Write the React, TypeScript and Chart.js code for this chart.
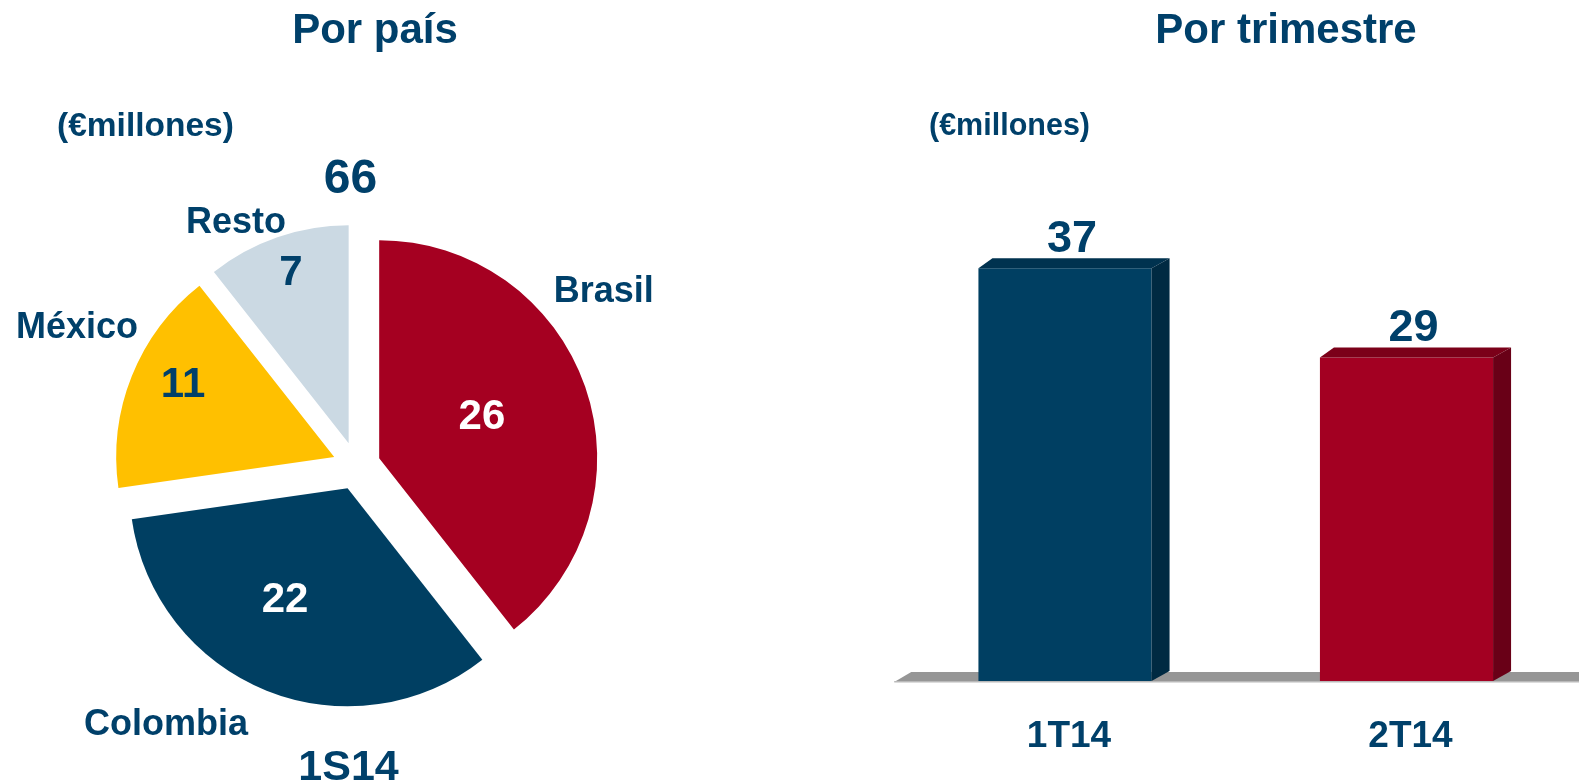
import React, { useEffect, useRef } from "react";
import { Chart, registerables } from "chart.js";

Chart.register(...registerables);

// ---------- data ----------
const countries = ["Brasil", "Colombia", "México", "Resto"];
const countryValues = [26, 22, 11, 7];
const periodLabel = "1S14";
const quarters = ["1T14", "2T14"];
const quarterValues = [37, 29];
const unitLabel = "(€millones)";
const leftTitle = "Por país";
const rightTitle = "Por trimestre";

// ---------- styles ----------
const FONT = '"Liberation Sans", Arial, Helvetica, sans-serif';
const TEXT = "#00406A";
const NAVY = "#003F62";
const RED = "#A50021";
const pieColors = [RED, NAVY, "#FFC000", "#CBD9E3"];
const valueLabelColors = ["#FFFFFF", "#FFFFFF", TEXT, TEXT];
// label placement: fraction along the slice's angle, distance as multiple of the radius
const valueLabelAngleFrac = [0.476, 0.557, 0.567, 0.516];
const valueLabelRadiusFrac = [0.623, 0.684, 0.884, 0.948];
const nameLabelAngleFrac = [0.384, 0.624, 0.583, 0.317];
const nameLabelRadiusFrac = [1.394, 1.463, 1.436, 1.257];
const EXPLODE = 24;
const PIE_RADIUS = 218;

const barFront = [NAVY, "#A30022"];
const barTop = ["#00324F", "#7B0019"];
const barSide = ["#002A42", "#690017"];
const DX = 18;
const DY = -10;

function drawText(ctx: CanvasRenderingContext2D, text: string, x: number, capCenterY: number, size: number, color: string) {
  ctx.font = `bold ${size}px ${FONT}`;
  ctx.fillStyle = color;
  ctx.textAlign = "center";
  ctx.textBaseline = "alphabetic";
  ctx.fillText(text, x, capCenterY + 0.358 * size);
}

const piePlugin = {
  id: "pieExtras",
  beforeDatasetDraw(chart: any, args: any) {
    const meta = chart.getDatasetMeta(args.index);
    const ctx = chart.ctx;
    meta.data.forEach((arc: any) => {
      const mid = (arc.startAngle + arc.endAngle) / 2;
      ctx.save();
      ctx.translate(Math.cos(mid) * EXPLODE, Math.sin(mid) * EXPLODE);
      arc.draw(ctx, chart.chartArea);
      ctx.restore();
    });
    return false;
  },
  afterDatasetsDraw(chart: any) {
    const meta = chart.getDatasetMeta(0);
    const ctx = chart.ctx;
    const values = chart.data.datasets[0].data as number[];
    let cx = 0;
    let cy = 0;
    let R = 0;
    meta.data.forEach((arc: any, i: number) => {
      cx = arc.x;
      cy = arc.y;
      R = arc.outerRadius;
      const span = arc.endAngle - arc.startAngle;
      const a1 = arc.startAngle + span * valueLabelAngleFrac[i];
      const r1 = R * valueLabelRadiusFrac[i];
      drawText(ctx, String(values[i]), arc.x + Math.cos(a1) * r1, arc.y + Math.sin(a1) * r1, 42, valueLabelColors[i]);
      const a2 = arc.startAngle + span * nameLabelAngleFrac[i];
      const r2 = R * nameLabelRadiusFrac[i];
      drawText(ctx, chart.data.labels[i], arc.x + Math.cos(a2) * r2, arc.y + Math.sin(a2) * r2, 36, TEXT);
    });
    const total = values.reduce((s, v) => s + v, 0);
    drawText(ctx, String(total), cx - 6, cy - R * 1.33, 48, TEXT);
    drawText(ctx, periodLabel, cx - 8, cy + R * 1.372, 43, TEXT);
  },
};

const barPlugin = {
  id: "bar3d",
  beforeDatasetsDraw(chart: any) {
    const { ctx, chartArea } = chart;
    const base = chart.scales.y.getPixelForValue(0);
    ctx.save();
    ctx.fillStyle = "#969696";
    ctx.beginPath();
    ctx.moveTo(chartArea.left, base + 1);
    ctx.lineTo(chartArea.left + DX - 1, base + 1 + DY);
    ctx.lineTo(chart.width, base + 1 + DY);
    ctx.lineTo(chart.width, base + 1);
    ctx.closePath();
    ctx.fill();
    ctx.fillStyle = "#B9B9B9";
    ctx.fillRect(chartArea.left, base, chart.width - chartArea.left, 1.5);
    ctx.restore();
  },
  afterDatasetsDraw(chart: any) {
    const { ctx } = chart;
    const meta = chart.getDatasetMeta(0);
    const values = chart.data.datasets[0].data as number[];
    meta.data.forEach((bar: any, i: number) => {
      const left = bar.x - bar.width / 2;
      const right = bar.x + bar.width / 2;
      const top = bar.y;
      const base = bar.base;
      ctx.save();
      // top face
      ctx.fillStyle = barTop[i];
      ctx.beginPath();
      ctx.moveTo(left, top);
      ctx.lineTo(left + DX - 4, top + DY);
      ctx.lineTo(right + DX, top + DY);
      ctx.lineTo(right, top);
      ctx.closePath();
      ctx.fill();
      // side face
      ctx.fillStyle = barSide[i];
      ctx.beginPath();
      ctx.moveTo(right, top);
      ctx.lineTo(right + DX, top + DY);
      ctx.lineTo(right + DX, base + DY);
      ctx.lineTo(right, base);
      ctx.closePath();
      ctx.fill();
      ctx.restore();
      // value label
      ctx.font = `bold 45px ${FONT}`;
      ctx.fillStyle = TEXT;
      ctx.textAlign = "center";
      ctx.textBaseline = "alphabetic";
      ctx.fillText(String(values[i]), bar.x + 7, top + DY - 6);
      // category label
      ctx.font = `bold 37px ${FONT}`;
      ctx.fillText(chart.data.labels[i], bar.x + 4, base + 66);
    });
  },
};

export default function App() {
  const pieRef = useRef<HTMLCanvasElement>(null);
  const barRef = useRef<HTMLCanvasElement>(null);

  useEffect(() => {
    document.body.style.margin = "0";
    const pie = new Chart(pieRef.current!, {
      type: "pie",
      data: {
        labels: countries,
        datasets: [
          {
            data: countryValues,
            backgroundColor: pieColors,
            borderWidth: 0,
            radius: PIE_RADIUS,
          } as any,
        ],
      },
      options: {
        animation: false,
        responsive: false,
        maintainAspectRatio: false,
        layout: { padding: { top: 149, bottom: 0, left: 0, right: 0 } },
        plugins: { legend: { display: false }, tooltip: { enabled: false } },
        events: [],
      } as any,
      plugins: [piePlugin],
    });
    const bar = new Chart(barRef.current!, {
      type: "bar",
      data: {
        labels: quarters,
        datasets: [
          {
            data: quarterValues,
            backgroundColor: barFront,
            borderWidth: 0,
            barPercentage: 0.507,
            categoryPercentage: 1,
          },
        ],
      },
      options: {
        animation: false,
        responsive: false,
        maintainAspectRatio: false,
        layout: { padding: { left: 14.25, right: 1.75, top: 179, bottom: 102 } },
        scales: {
          x: { display: false },
          y: { display: false, min: 0, max: 45 },
        },
        plugins: { legend: { display: false }, tooltip: { enabled: false } },
        events: [],
      } as any,
      plugins: [barPlugin],
    });
    return () => {
      pie.destroy();
      bar.destroy();
    };
  }, []);

  const textStyle: React.CSSProperties = {
    position: "absolute",
    fontFamily: FONT,
    fontWeight: "bold",
    color: TEXT,
    lineHeight: 1,
    whiteSpace: "nowrap",
    margin: 0,
  };

  return (
    <div style={{ position: "fixed", left: 0, top: 0, width: 1579, height: 783, background: "#fff", overflow: "hidden" }}>
      <canvas ref={pieRef} width={713} height={783} style={{ position: "absolute", left: 0, top: 0, width: 713, height: 783 }} />
      <canvas ref={barRef} width={699} height={783} style={{ position: "absolute", left: 880, top: 0, width: 699, height: 783 }} />
      <div style={{ ...textStyle, fontSize: 42, left: 375, top: 8, transform: "translateX(-50%)" }}>{leftTitle}</div>
      <div style={{ ...textStyle, fontSize: 42, left: 1286, top: 8, transform: "translateX(-50%)" }}>{rightTitle}</div>
      <div style={{ ...textStyle, fontSize: 33.5, left: 57, top: 108 }}>{unitLabel}</div>
      <div style={{ ...textStyle, fontSize: 30.5, left: 929, top: 109 }}>{unitLabel}</div>
    </div>
  );
}
